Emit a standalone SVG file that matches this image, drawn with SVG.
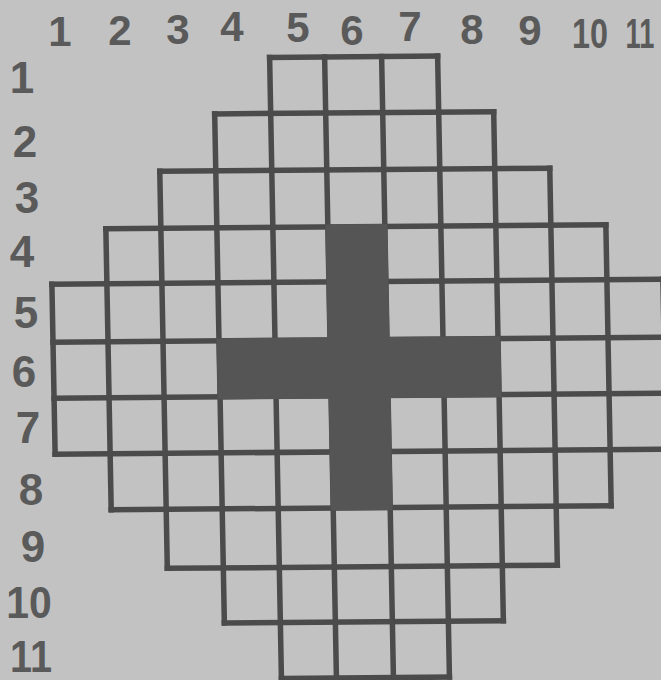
<svg xmlns="http://www.w3.org/2000/svg" width="661" height="680" viewBox="0 0 661 680">
  <style>
    .grid line { stroke: #4b4b4b; stroke-width: 5.5; stroke-linecap: square; }
    .cross { fill: #555555; }
    .lbl { font-family: "Liberation Sans", Arial, sans-serif; font-weight: bold; font-size: 42px; fill: #5a5a5a; text-anchor: middle; }
    .lbl.left { font-size: 44px; }
  </style>
  <rect x="0" y="0" width="661" height="680" fill="#c2c2c2"/>

  <g id="board" transform="matrix(1,-0.008,0.019,1,-6.46,2.64)">
    <g id="grid" class="grid">
      <!-- horizontal lines -->
      <line x1="275" y1="57" x2="443" y2="57"/>
      <line x1="219" y1="113" x2="498" y2="113"/>
      <line x1="163" y1="170" x2="553" y2="170"/>
      <line x1="108" y1="227" x2="608" y2="227"/>
      <line x1="53" y1="282" x2="664" y2="282"/>
      <line x1="53" y1="340" x2="664" y2="340"/>
      <line x1="53" y1="396" x2="664" y2="396"/>
      <line x1="53" y1="452" x2="664" y2="452"/>
      <line x1="108" y1="508" x2="608" y2="508"/>
      <line x1="163" y1="567" x2="553" y2="567"/>
      <line x1="219" y1="622" x2="498" y2="622"/>
      <line x1="275" y1="678" x2="443" y2="678"/>
      <!-- vertical lines -->
      <line x1="53" y1="282" x2="53" y2="452"/>
      <line x1="108" y1="227" x2="108" y2="508"/>
      <line x1="163" y1="170" x2="163" y2="567"/>
      <line x1="219" y1="113" x2="219" y2="622"/>
      <line x1="275" y1="57" x2="275" y2="678"/>
      <line x1="330" y1="57" x2="330" y2="678"/>
      <line x1="387" y1="57" x2="387" y2="678"/>
      <line x1="443" y1="57" x2="443" y2="678"/>
      <line x1="498" y1="113" x2="498" y2="622"/>
      <line x1="553" y1="170" x2="553" y2="567"/>
      <line x1="608" y1="227" x2="608" y2="508"/>
      <line x1="664" y1="282" x2="664" y2="452"/>
    </g>
    <g id="cross">
      <path class="cross" d="M327.5,224.5 H389.5 V337.5 H500.5 V398.5 H389.5 V510.5 H327.5 V398.5 H216.5 V337.5 H327.5 Z"/>
    </g>
  </g>

  <g id="col-labels">
    <text class="lbl" x="60" y="46">1</text>
    <text class="lbl" x="120" y="45">2</text>
    <text class="lbl" x="178" y="44">3</text>
    <text class="lbl" x="232" y="41">4</text>
    <text class="lbl" x="298" y="42">5</text>
    <text class="lbl" x="352" y="45">6</text>
    <text class="lbl" x="410" y="41">7</text>
    <text class="lbl" x="472" y="44">8</text>
    <text class="lbl" x="530" y="45">9</text>
    <text class="lbl" transform="translate(590,48) scale(0.77,1)" x="0" y="0">10</text>
    <text class="lbl" transform="translate(640,48) scale(0.65,1)" x="0" y="0">11</text>
  </g>

  <g id="row-labels">
    <text class="lbl left" x="22" y="93">1</text>
    <text class="lbl left" x="25" y="157">2</text>
    <text class="lbl left" x="27" y="213">3</text>
    <text class="lbl left" x="22" y="267">4</text>
    <text class="lbl left" x="26" y="328">5</text>
    <text class="lbl left" x="24" y="387">6</text>
    <text class="lbl left" x="28" y="443">7</text>
    <text class="lbl left" x="31" y="505">8</text>
    <text class="lbl left" x="33" y="562">9</text>
    <text class="lbl left" transform="translate(29,618) scale(0.93,1)" x="0" y="0">10</text>
    <text class="lbl left" transform="translate(31,672) scale(0.9,1)" x="0" y="0">11</text>
  </g>
</svg>
